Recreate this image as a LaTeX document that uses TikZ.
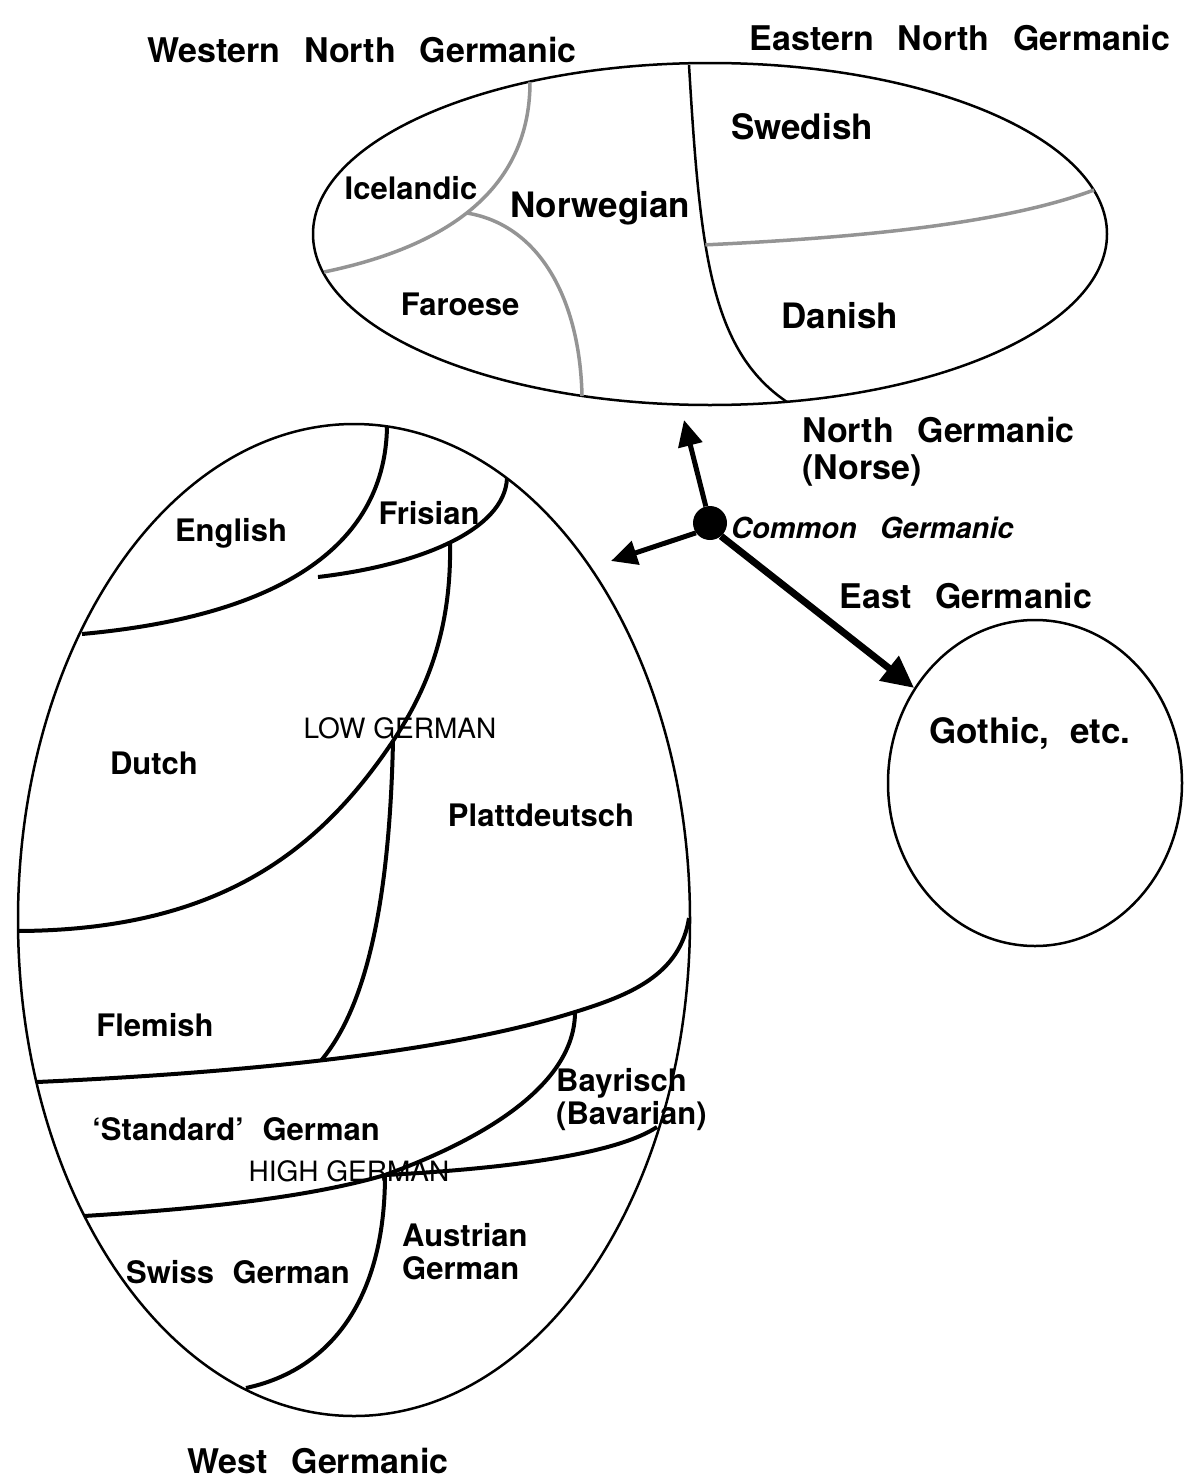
\documentclass[tikz,border=0pt]{standalone}
\usepackage{fontspec}
\setmainfont{TeX Gyre Heros}
\usepackage{tikz}
\usetikzlibrary{arrows.meta,shapes.geometric}
\definecolor{dialgray}{gray}{0.58}

\begin{document}
\begin{tikzpicture}[x=1pt,y=-1pt]
\tikzstyle{every node}+=[inner sep=0pt]
\tikzstyle{rim}=[line width=2.5pt]
\tikzstyle{bound}=[line width=4pt]
\tikzstyle{dial}=[line width=3.5pt, dialgray]
\tikzstyle{area}=[ellipse, draw, rim]
\tikzstyle{branchto}=[-{Triangle[length=26pt,width=24pt]}, line width=5pt]
\tikzstyle{title}=[font={\fontsize{34}{37}\selectfont\bfseries\spaceskip=0.7em\relax}]
\tikzstyle{lang}=[font={\fontsize{31}{33}\selectfont\bfseries\spaceskip=0.6em\relax}]
\tikzstyle{nation}=[font={\fontsize{35}{40}\selectfont\bfseries\spaceskip=0.6em\relax}]
\tikzstyle{group}=[font=\fontsize{28}{32}\selectfont]
\tikzstyle{proto}=[font={\fontsize{29}{33}\selectfont\bfseries\itshape\spaceskip=0.8em\relax}]
\useasboundingbox (0,0) rectangle (1192,1483);
\node[area, minimum width=794, minimum height=342] (north) at (710,234) {};
\node[area, minimum width=672, minimum height=992] (west) at (354,920) {};
\node[area, minimum width=294, minimum height=326] (goth) at (1035,783) {};
\draw[rim] (689,65) .. controls (700,250) and (710,350) .. (787,402) coordinate[pos=.39] (swedfork);
\draw[dial] (530,82) .. controls (530,200) and (430,250) .. (324,272) coordinate[pos=.5] (farfork);
\draw[dial] (farfork) .. controls (540,225) and (580,300) .. (582,396);
\draw[dial] (swedfork) .. controls (850,238) and (1000,225) .. (1094,190);
\draw[bound] (387,427) .. controls (385,540) and (290,615) .. (82,634);
\draw[bound] (507,478) .. controls (505,530) and (420,565) .. (318,577) coordinate[pos=.5] (lowtop);
\draw[bound] (lowtop) .. controls (452,640) and (420,700) .. (393,741) coordinate (dutchfork);
\draw[bound] (dutchfork) .. controls (320,850) and (220,930) .. (18,931);
\draw[bound] (689,918) .. controls (680,975) and (630,995) .. (575,1012) coordinate (bavfork) .. controls (470,1045) and (300,1070) .. (37,1082) coordinate[pos=.58] (flemfoot);
\draw[bound] (dutchfork) .. controls (390,880) and (372,1000) .. (flemfoot);
\draw[bound] (bavfork) .. controls (575,1080) and (495,1135) .. (385,1175) coordinate (swissfork) .. controls (300,1200) and (180,1210) .. (84,1216);
\draw[bound] (657,1127) .. controls (610,1158) and (480,1170) .. (swissfork);
\draw[bound] (swissfork) .. controls (385,1300) and (330,1370) .. (246,1388);
\node[fill, circle, minimum size=34] (cg) at (710,523) {};
\coordinate (nt) at (684,420);
\coordinate (wt) at (611,561);
\draw[branchto] (cg) -- (nt);
\draw[branchto] (cg.215) -- (wt);
\draw[branchto, line width=7pt, -{Triangle[length=32pt,width=30pt]}] (cg.-50) -- (goth);
\node[title] (wng) at (362,50) {Western North Germanic};
\node[title] (eng) at (960,38) {Eastern North Germanic};
\node[title, anchor=west, align=left] (ng) at (802,452) {North Germanic\\(Norse)};
\node[proto, anchor=west] (cgl) at (731,528) {Common Germanic};
\node[title] (eg) at (966,596) {East Germanic};
\node[title] (wg) at (318,1461) {West Germanic};
\node[lang] (ice) at (411,188) {Icelandic};
\node[nation] (nor) at (600,208) {Norwegian};
\node[nation] (swe) at (802,127) {Swedish};
\node[lang] (far) at (460,304) {Faroese};
\node[nation] (dan) at (840,316) {Danish};
\node[nation] (got) at (1030,733) {Gothic, etc.};
\node[lang] (engl) at (231,533) {English};
\node[lang] (fri) at (429,513) {Frisian};
\node[lang] (dut) at (154,763) {Dutch};
\node[group] (low) at (400,728) {LOW GERMAN};
\node[lang] (pla) at (541,815) {Plattdeutsch};
\node[lang] (fle) at (155,1025) {Flemish};
\node[lang] (std) at (236,1129) {`Standard' German};
\node[group] (high) at (349,1171) {HIGH GERMAN};
\node[lang, anchor=west, align=left] (bav) at (556,1100) {Bayrisch\\(Bavarian)};
\node[lang] (swi) at (238,1272) {Swiss German};
\node[lang, anchor=west, align=left] (aus) at (402,1252) {Austrian\\German};
\end{tikzpicture}
\end{document}
